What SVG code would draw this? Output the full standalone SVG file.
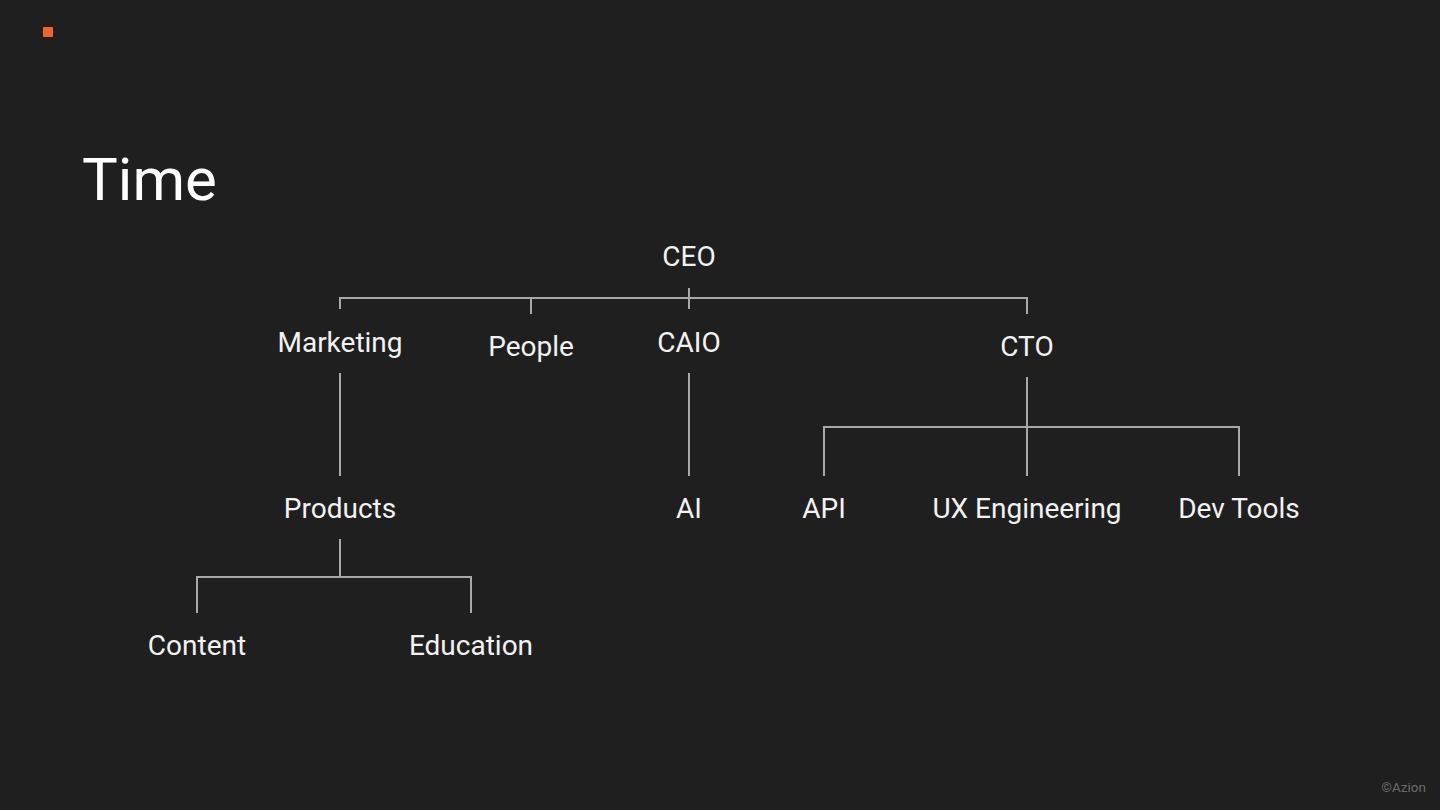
<svg xmlns="http://www.w3.org/2000/svg" width="1440" height="810" viewBox="0 0 1440 810">
<style>
.t{font-family:Roboto,"Liberation Sans",sans-serif;font-size:28px;fill:#f2f2f2;text-anchor:middle}
.c line,.c path{stroke:#a8a8a8;stroke-width:2;fill:none}
</style>
<rect width="1440" height="810" fill="#1f1f1f"/>
<rect x="43" y="27" width="10" height="10" fill="#f26430"/>
<text x="82" y="200" style="font-family:Roboto,'Liberation Sans',sans-serif;font-size:60px;fill:#ffffff">Time</text>
<text x="1426" y="792" style="font-family:Roboto,'Liberation Sans',sans-serif;font-size:13.5px;fill:#6a6a6a;text-anchor:end">©Azion</text>
<g class="c" id="connectors">
<line x1="689" y1="288" x2="689" y2="309"/>
<path d="M340 309 V298 H1027 V314"/>
<line x1="531" y1="298" x2="531" y2="314"/>
<line x1="340" y1="373" x2="340" y2="476"/>
<line x1="689" y1="373" x2="689" y2="476"/>
<line x1="1027" y1="377" x2="1027" y2="476"/>
<path d="M824 476 V427 H1239 V476"/>
<line x1="340" y1="539" x2="340" y2="577"/>
<path d="M197 613 V577 H471 V613"/>
</g>
<g id="ceo"><text class="t" x="689" y="266">CEO</text></g>
<g id="marketing"><text class="t" x="340" y="352">Marketing</text></g>
<g id="people"><text class="t" x="531" y="356">People</text></g>
<g id="caio"><text class="t" x="689" y="352">CAIO</text></g>
<g id="cto"><text class="t" x="1027" y="356">CTO</text></g>
<g id="products"><text class="t" x="340" y="518">Products</text></g>
<g id="ai"><text class="t" x="689" y="518">AI</text></g>
<g id="api"><text class="t" x="824" y="518">API</text></g>
<g id="ux"><text class="t" x="1027" y="518">UX Engineering</text></g>
<g id="devtools"><text class="t" x="1239" y="518">Dev Tools</text></g>
<g id="content"><text class="t" x="197" y="655">Content</text></g>
<g id="education"><text class="t" x="471" y="655">Education</text></g>
</svg>
